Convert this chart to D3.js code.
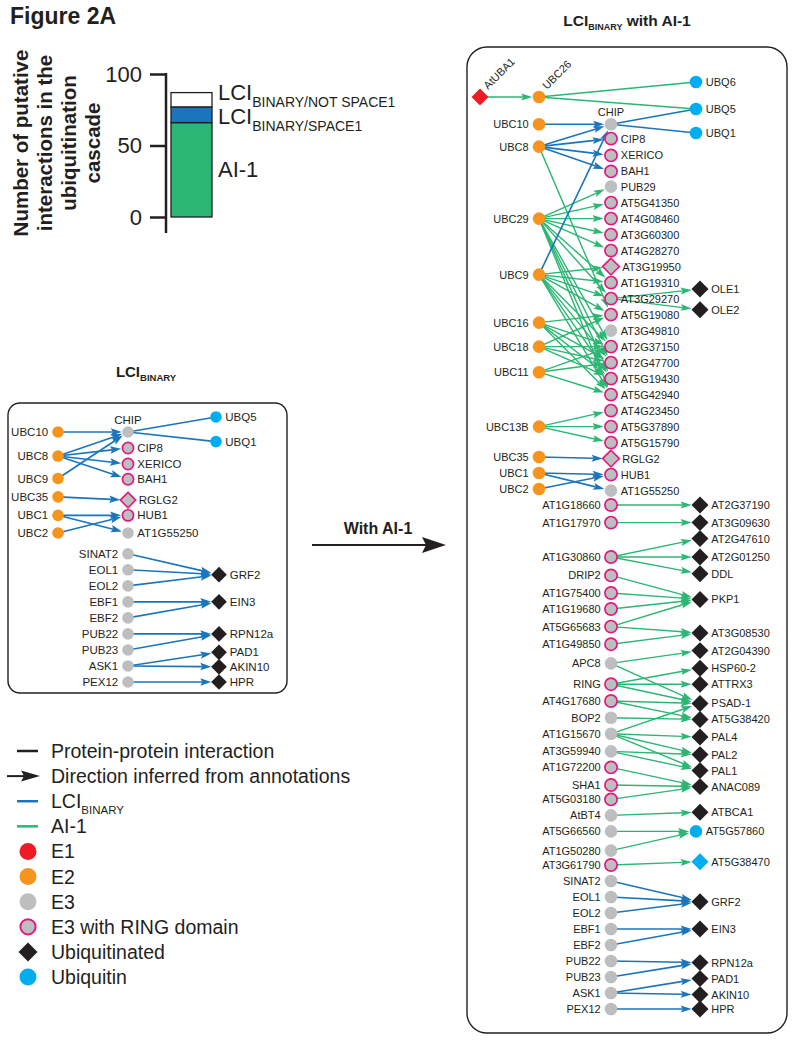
<!DOCTYPE html>
<html><head><meta charset="utf-8">
<script src="https://cdn.jsdelivr.net/npm/d3@7"></script>
<style>
body{margin:0;background:#fff}
svg{display:block}
text{font-family:"Liberation Sans",Arial,Helvetica,sans-serif;fill:#231f20}
</style>
</head><body>
<svg id="c" width="794" height="1042"></svg>
<script>
// ---------------- DATA ----------------
const barSegments = ["AI-1", "LCI_BINARY/SPACE1", "LCI_BINARY/NOT SPACE1"];
const barValues = [66, 11, 10];
const yTicks = [0, 50, 100];
const yTitleLines = ["Number of putative", "interactions in the", "ubiquitination", "cascade"];

const legendItems = [
  ["Protein-protein interaction", "ppi"],
  ["Direction inferred from annotations", "dir"],
  ["LCI|BINARY", "lci"],
  ["AI-1", "ai1"],
  ["E1", "E1c"],
  ["E2", "E2"],
  ["E3", "E3"],
  ["E3 with RING domain", "RING"],
  ["Ubiquitinated", "UB"],
  ["Ubiquitin", "UBQ"]
];

// nodes: [name, column, row, type]
const leftNodes = [
  ["UBC10",1,0,"E2"],["UBC8",1,1.5,"E2"],["UBC9",1,2.9,"E2"],["UBC35",1,4.05,"E2"],
  ["UBC1",1,5.2,"E2"],["UBC2",1,6.3,"E2"],
  ["CHIP",2,0,"E3"],["CIP8",2,1,"RING"],["XERICO",2,2,"RING"],["BAH1",2,2.95,"RING"],
  ["RGLG2",2,4.25,"RINGd"],["HUB1",2,5.2,"RING"],["AT1G55250",2,6.3,"E3"],
  ["SINAT2",2,7.6,"E3"],["EOL1",2,8.6,"E3"],["EOL2",2,9.6,"E3"],["EBF1",2,10.6,"E3"],
  ["EBF2",2,11.6,"E3"],["PUB22",2,12.6,"E3"],["PUB23",2,13.6,"E3"],["ASK1",2,14.6,"E3"],
  ["PEX12",2,15.6,"E3"],
  ["UBQ5",3,-0.94,"UBQ"],["UBQ1",3,0.6,"UBQ"],["GRF2",3,8.9,"UB"],["EIN3",3,10.6,"UB"],
  ["RPN12a",3,12.6,"UB"],["PAD1",3,13.75,"UB"],["AKIN10",3,14.65,"UB"],["HPR",3,15.6,"UB"]
];
// edges: [source, target, dataset, directed]
const lciEdges = [
  ["UBC10","CHIP","LCI",1],["UBC8","CHIP","LCI",1],["UBC8","CIP8","LCI",1],["UBC8","XERICO","LCI",1],
  ["UBC8","BAH1","LCI",1],["UBC9","CHIP","LCI",1],["CHIP","UBQ5","LCI",0],["CHIP","UBQ1","LCI",0],
  ["UBC35","RGLG2","LCI",1],["UBC1","HUB1","LCI",1],["UBC1","AT1G55250","LCI",1],["UBC2","HUB1","LCI",1],
  ["SINAT2","GRF2","LCI",1],["EOL1","GRF2","LCI",1],["EOL2","GRF2","LCI",1],["EBF1","EIN3","LCI",1],
  ["EBF2","EIN3","LCI",1],["PUB22","RPN12a","LCI",1],["PUB23","RPN12a","LCI",1],["ASK1","PAD1","LCI",1],
  ["ASK1","AKIN10","LCI",1],["PEX12","HPR","LCI",1]
];

const rightNodes = [
  ["AtUBA1",0,0,"E1"],
  ["UBC26",1,0,"E2"],["UBC10",1,1.7,"E2"],["UBC8",1,3.1,"E2"],["UBC29",1,7.6,"E2"],
  ["UBC9",1,11.1,"E2"],["UBC16",1,14.1,"E2"],["UBC18",1,15.6,"E2"],["UBC11",1,17.2,"E2"],
  ["UBC13B",1,20.6,"E2"],["UBC35",1,22.5,"E2"],["UBC1",1,23.5,"E2"],["UBC2",1,24.5,"E2"],
  ["CHIP",2,1.7,"E3"],["CIP8",2,2.6,"RING"],["XERICO",2,3.65,"RING"],["BAH1",2,4.65,"RING"],
  ["PUB29",2,5.6,"E3"],["AT5G41350",2,6.6,"RING"],["AT4G08460",2,7.6,"RING"],["AT3G60300",2,8.6,"RING"],
  ["AT4G28270",2,9.6,"RING"],["AT3G19950",2,10.6,"RINGd"],["AT1G19310",2,11.6,"RING"],
  ["AT3G29270",2,12.6,"RING"],["AT5G19080",2,13.6,"RING"],["AT3G49810",2,14.6,"E3"],
  ["AT2G37150",2,15.6,"RING"],["AT2G47700",2,16.6,"RING"],["AT5G19430",2,17.6,"RING"],
  ["AT5G42940",2,18.6,"RING"],["AT4G23450",2,19.6,"RING"],["AT5G37890",2,20.6,"RING"],
  ["AT5G15790",2,21.6,"RING"],["RGLG2",2,22.6,"RINGd"],["HUB1",2,23.6,"RING"],["AT1G55250",2,24.6,"E3"],
  ["AT1G18660",2,25.5,"RING"],["AT1G17970",2,26.6,"RING"],["AT1G30860",2,28.75,"RING"],
  ["DRIP2",2,29.9,"RING"],["AT1G75400",2,31,"RING"],["AT1G19680",2,32,"RING"],
  ["AT5G65683",2,33.1,"RING"],["AT1G49850",2,34.2,"RING"],["APC8",2,35.4,"E3"],
  ["RING",2,36.7,"RING"],["AT4G17680",2,37.75,"RING"],["BOP2",2,38.8,"E3"],["AT1G15670",2,39.8,"E3"],
  ["AT3G59940",2,40.9,"E3"],["AT1G72200",2,41.9,"RING"],["SHA1",2,43,"RING"],["AT5G03180",2,43.9,"RING"],
  ["AtBT4",2,44.9,"E3"],["AT5G66560",2,45.9,"E3"],["AT1G50280",2,47.1,"E3"],["AT3G61790",2,48,"RING"],
  ["SINAT2",2,49,"E3"],["EOL1",2,50,"E3"],["EOL2",2,51,"E3"],["EBF1",2,52,"E3"],["EBF2",2,53,"E3"],
  ["PUB22",2,54,"E3"],["PUB23",2,55,"E3"],["ASK1",2,56,"E3"],["PEX12",2,57,"E3"],
  ["UBQ6",3,-0.94,"UBQ"],["UBQ5",3,0.75,"UBQ"],["UBQ1",3,2.25,"UBQ"],["OLE1",3,12,"UB"],["OLE2",3,13.3,"UB"],
  ["AT2G37190",3,25.5,"UB"],["AT3G09630",3,26.6,"UB"],["AT2G47610",3,27.6,"UB"],["AT2G01250",3,28.75,"UB"],
  ["DDL",3,29.8,"UB"],["PKP1",3,31.4,"UB"],["AT3G08530",3,33.5,"UB"],["AT2G04390",3,34.6,"UB"],
  ["HSP60-2",3,35.7,"UB"],["ATTRX3",3,36.7,"UB"],["PSAD-1",3,37.9,"UB"],["AT5G38420",3,38.9,"UB"],
  ["PAL4",3,40,"UB"],["PAL2",3,41.1,"UB"],["PAL1",3,42.1,"UB"],["ANAC089",3,43.1,"UB"],
  ["ATBCA1",3,44.7,"UB"],["AT5G57860",3,45.9,"UBQ"],["AT5G38470",3,47.8,"UBQd"],
  ["GRF2",3,50.3,"UB"],["EIN3",3,52,"UB"],["RPN12a",3,54.1,"UB"],["PAD1",3,55.1,"UB"],
  ["AKIN10",3,56.1,"UB"],["HPR",3,57,"UB"]
];
const ai1Edges = [
  ["AtUBA1","UBC26","AI1",1],["UBC26","UBQ6","AI1",0],["UBC26","UBQ5","AI1",0],
  ["UBC8","AT5G19080","AI1",1],
  ["UBC29","PUB29","AI1",1],["UBC29","AT5G41350","AI1",1],["UBC29","AT4G08460","AI1",1],
  ["UBC29","AT3G60300","AI1",1],["UBC29","AT4G28270","AI1",1],["UBC29","AT1G19310","AI1",1],
  ["UBC29","AT3G29270","AI1",1],["UBC29","AT2G37150","AI1",1],["UBC29","AT2G47700","AI1",1],
  ["UBC29","AT5G19430","AI1",1],["UBC29","AT5G42940","AI1",1],
  ["UBC9","AT3G19950","AI1",1],["UBC9","AT1G19310","AI1",1],["UBC9","AT3G29270","AI1",1],
  ["UBC9","AT5G19080","AI1",1],["UBC9","AT2G37150","AI1",1],["UBC9","AT2G47700","AI1",1],
  ["UBC9","AT5G19430","AI1",1],["UBC9","AT5G42940","AI1",1],
  ["UBC16","AT5G19080","AI1",1],["UBC16","AT2G37150","AI1",1],["UBC16","AT2G47700","AI1",1],
  ["UBC16","AT5G19430","AI1",1],["UBC16","AT5G42940","AI1",1],
  ["UBC18","AT5G19080","AI1",1],["UBC18","AT2G37150","AI1",1],["UBC18","AT2G47700","AI1",1],
  ["UBC18","AT5G19430","AI1",1],
  ["UBC11","AT2G37150","AI1",1],["UBC11","AT2G47700","AI1",1],["UBC11","AT5G42940","AI1",1],
  ["UBC13B","AT4G23450","AI1",1],["UBC13B","AT5G37890","AI1",1],["UBC13B","AT5G15790","AI1",1],
  ["AT3G29270","OLE1","AI1",1],["AT3G29270","OLE2","AI1",1],
  ["AT1G18660","AT2G37190","AI1",1],["AT1G17970","AT3G09630","AI1",1],
  ["AT1G30860","AT2G47610","AI1",1],["AT1G30860","AT2G01250","AI1",1],["AT1G30860","DDL","AI1",1],
  ["DRIP2","PKP1","AI1",1],["AT1G75400","PKP1","AI1",1],["AT1G19680","PKP1","AI1",1],
  ["AT5G65683","PKP1","AI1",1],["AT5G65683","AT3G08530","AI1",1],["AT1G49850","AT3G08530","AI1",1],
  ["APC8","AT2G04390","AI1",1],["APC8","PSAD-1","AI1",1],
  ["RING","HSP60-2","AI1",1],["RING","ATTRX3","AI1",1],["RING","PSAD-1","AI1",1],
  ["AT4G17680","PSAD-1","AI1",1],["AT4G17680","AT5G38420","AI1",1],["BOP2","AT5G38420","AI1",1],
  ["AT1G15670","PSAD-1","AI1",1],["AT1G15670","PAL4","AI1",1],["AT1G15670","PAL2","AI1",1],
  ["AT1G15670","PAL1","AI1",1],["AT3G59940","PAL2","AI1",1],["AT3G59940","PAL1","AI1",1],
  ["AT1G72200","ANAC089","AI1",1],["SHA1","ANAC089","AI1",1],["AT5G03180","ANAC089","AI1",1],
  ["AtBT4","ATBCA1","AI1",1],["AT5G66560","AT5G57860","AI1",1],["AT1G50280","AT5G57860","AI1",1],
  ["AT3G61790","AT5G38470","AI1",1]
];
const rightEdges = ai1Edges.concat(lciEdges);

// ---------------- STYLE ----------------
const C = {
  blue:"#1b75bc", green:"#2bb673", orange:"#f7941d", gray:"#bcbec0",
  magenta:"#e3197f", ubq:"#00aeef", red:"#ed1c24", black:"#231f20"
};
const svg = d3.select("#c");

function subText(sel, main, sub, rest, mainSize, subSize, shift, weight) {
  const t = sel.append("text").attr("font-weight", weight || "normal");
  t.append("tspan").attr("font-size", mainSize).text(main);
  t.append("tspan").attr("font-size", subSize).attr("dy", shift).text(sub);
  if (rest) t.append("tspan").attr("font-size", mainSize).attr("dy", -shift).text(rest);
  return t;
}

// ---------------- HEADER + BAR ----------------
svg.append("text").attr("x", 10).attr("y", 24).attr("font-size", 23).attr("font-weight", "bold").text("Figure 2A");

const yBar = d3.scaleLinear().domain([0, 100]).range([217, 74]);
const xBar = d3.scaleBand().domain(["cascade"]).range([171, 212]);
const gAx = svg.append("g").attr("transform", "translate(166,0)")
  .call(d3.axisLeft(yBar).tickValues(yTicks).tickSize(16).tickPadding(8).tickSizeOuter(0));
gAx.select(".domain").remove();
gAx.selectAll(".tick line").attr("stroke", C.black).attr("stroke-width", 2.5);
gAx.selectAll(".tick text").attr("font-size", 22).attr("fill", C.black)
  .attr("font-family", '"Liberation Sans",Arial,sans-serif');
svg.append("line").attr("x1", 166).attr("x2", 166).attr("y1", yBar(100) - 1).attr("y2", yBar(0) + 16)
  .attr("stroke", C.black).attr("stroke-width", 2.5);

const barColors = [C.green, C.blue, "#ffffff"];
let cum = 0;
const segs = barValues.map((v, i) => { const s = {i, y0: cum, y1: cum + v}; cum += v; return s; });
svg.selectAll("rect.bar").data(segs).join("rect").attr("class", "bar")
  .attr("x", xBar("cascade")).attr("width", xBar.bandwidth())
  .attr("y", d => yBar(d.y1)).attr("height", d => yBar(d.y0) - yBar(d.y1))
  .attr("fill", d => barColors[d.i]).attr("stroke", C.black).attr("stroke-width", 1.3);

const lx = xBar.range()[1] + 6;
{
  const s2 = segs[2], s1 = segs[1], s0 = segs[0];
  subText(svg, "LCI", barSegments[2].split("_")[1], null, 22, 14, 7).attr("x", lx).attr("y", yBar(s2.y1) + 7);
  subText(svg, "LCI", barSegments[1].split("_")[1], null, 22, 14, 7).attr("x", lx).attr("y", yBar(s1.y1) + 17);
  svg.append("text").attr("x", lx).attr("y", yBar((s0.y0 + s0.y1) / 2) + 7).attr("font-size", 22).text(barSegments[0]);
}

yTitleLines.forEach((t, i) => {
  svg.append("text").attr("transform", `translate(${28 + i * 24},143) rotate(-90)`)
    .attr("text-anchor", "middle").attr("font-size", 20.5).attr("font-weight", "bold").text(t);
});

// ---------------- NETWORK DRAWER ----------------
function drawNet(g, nodes, edges, xs, ys, cfg) {
  const byName = new Map(nodes.map(n => [n[0], {name: n[0], col: n[1], row: n[2], type: n[3],
    x: xs(n[1]) + (n[3] === "UBQ" && n[1] === 3 ? cfg.ubqShift : 0), y: ys(n[2])}]));
  const rad = t => (t === "UB" || t === "UBQd" || t === "E1" || t === "RINGd") ? cfg.r * 1.25 : cfg.r + (t === "RING" ? 0.6 : 0);
  const lines = [], heads = [];
  edges.forEach(e => {
    const a = byName.get(e[0]), b = byName.get(e[1]);
    const col = e[2] === "LCI" ? C.blue : C.green;
    const dx = b.x - a.x, dy = b.y - a.y, len = Math.hypot(dx, dy), ux = dx / len, uy = dy / len;
    if (!e[3]) { lines.push({x1: a.x, y1: a.y, x2: b.x, y2: b.y, col, w: e[2] === "LCI" ? cfg.wb : cfg.wg}); return; }
    const tipD = rad(b.type) + 0.5;
    const tx = b.x - ux * tipD, ty = b.y - uy * tipD;
    const bx = tx - ux * cfg.L, by = ty - uy * cfg.L;
    const px = -uy * cfg.W / 2, py = ux * cfg.W / 2;
    lines.push({x1: a.x, y1: a.y, x2: bx + ux * 2, y2: by + uy * 2, col, w: e[2] === "LCI" ? cfg.wb : cfg.wg});
    heads.push({pts: [[tx, ty], [bx + px, by + py], [bx + ux * 2, by + uy * 2], [bx - px, by - py]], col});
  });
  g.append("g").selectAll("line").data(lines).join("line")
    .attr("x1", d => d.x1).attr("y1", d => d.y1).attr("x2", d => d.x2).attr("y2", d => d.y2)
    .attr("stroke", d => d.col).attr("stroke-width", d => d.w);
  g.append("g").selectAll("path").data(heads).join("path")
    .attr("d", d => "M" + d.pts.map(p => p.join(",")).join("L") + "Z").attr("fill", d => d.col);
  const ns = [...byName.values()];
  const ng = g.append("g");
  ns.forEach(n => {
    const t = n.type;
    const nx = n.x;
    if (t === "UB" || t === "UBQd" || t === "E1" || t === "RINGd") {
      const d = rad(t) + (t === "RINGd" ? 0.5 : 0.6);
      ng.append("path").attr("d", `M${nx},${n.y - d}L${nx + d},${n.y}L${nx},${n.y + d}L${nx - d},${n.y}Z`)
        .attr("fill", t === "UB" ? C.black : t === "UBQd" ? C.ubq : t === "E1" ? C.red : C.gray)
        .attr("stroke", t === "RINGd" ? C.magenta : "none").attr("stroke-width", 1.6);
    } else {
      ng.append("circle").attr("cx", nx).attr("cy", n.y).attr("r", t === "RING" ? cfg.r - 0.2 : cfg.r)
        .attr("fill", t === "E2" ? C.orange : t === "UBQ" ? C.ubq : C.gray)
        .attr("stroke", t === "RING" ? C.magenta : "none").attr("stroke-width", 1.7);
    }
    const side = cfg.side(n);
    const lt = ng.append("text").attr("font-size", cfg.fs).text(n.name);
    if (side === "left") lt.attr("x", nx - cfg.r - 4).attr("y", n.y).attr("dy", "0.36em").attr("text-anchor", "end");
    else if (side === "right") lt.attr("x", nx + cfg.r + 3.5 + (t === "UB" || t === "UBQd" || t === "RINGd" ? 1.5 : 0)).attr("y", n.y).attr("dy", "0.36em");
    else if (side === "top") lt.attr("x", nx).attr("y", n.y - cfg.r - 2).attr("text-anchor", "middle");
    else lt.attr("transform", `translate(${nx + 8},${n.y - 7}) rotate(-45)`);
  });
}

// ---------------- LEFT PANEL ----------------
svg.append("rect").attr("x", 8).attr("y", 403).attr("width", 279).attr("height", 290).attr("rx", 12)
  .attr("fill", "none").attr("stroke", C.black).attr("stroke-width", 1.4);
subText(svg, "LCI", "BINARY", null, 15, 9.5, 4, "bold").attr("x", 146).attr("y", 377).attr("text-anchor", "middle");
const xL = d3.scaleOrdinal().domain([1, 2, 3]).range([58, 128, 219]);
const yL = d3.scaleLinear().domain([0, 15.6]).range([432, 682]);
drawNet(svg.append("g"), leftNodes, lciEdges, xL, yL, {
  r: 5.8, fs: 11.5, L: 11, W: 7.5, wb: 1.6, wg: 1.4, ubqShift: -3,
  side: n => n.name === "CHIP" ? "top" : n.col === 1 ? "left" : n.col === 3 ? "right" : (n.row >= 7 ? "left" : "right")
});

// ---------------- RIGHT PANEL ----------------
svg.append("rect").attr("x", 467).attr("y", 47).attr("width", 320).attr("height", 986).attr("rx", 20)
  .attr("fill", "none").attr("stroke", C.black).attr("stroke-width", 1.4);
subText(svg, "LCI", "BINARY", " with AI-1", 15.5, 9, 4, "bold").attr("x", 627).attr("y", 26).attr("text-anchor", "middle");
const xR = d3.scaleOrdinal().domain([0, 1, 2, 3]).range([480, 539, 611, 700]);
const yR = d3.scaleLinear().domain([0, 57]).range([97, 1009]);
drawNet(svg.append("g"), rightNodes, rightEdges, xR, yR, {
  r: 6.3, fs: 11, L: 11, W: 7, wb: 1.6, wg: 1.4, ubqShift: -4,
  side: n => (n.name === "AtUBA1" || n.name === "UBC26") ? "rot" : n.name === "CHIP" ? "top" :
    n.col === 1 ? "left" : n.col === 3 ? "right" : (n.row >= 25 ? "left" : "right")
});

// ---------------- "With AI-1" ARROW ----------------
svg.append("text").attr("x", 378).attr("y", 534).attr("text-anchor", "middle").attr("font-size", 16).attr("font-weight", "bold").text("With AI-1");
svg.append("line").attr("x1", 312).attr("x2", 428).attr("y1", 545).attr("y2", 545).attr("stroke", C.black).attr("stroke-width", 2.2);
svg.append("path").attr("d", "M446,545L422,537L426,545L422,553Z").attr("fill", C.black);

// ---------------- LEGEND ----------------
const yLeg = d3.scaleLinear().domain([0, legendItems.length - 1]).range([751, 977]);
legendItems.forEach((it, i) => {
  const y = yLeg(i), k = it[1];
  const g = svg.append("g");
  if (k === "ppi" || k === "lci" || k === "ai1") {
    g.append("line").attr("x1", 17).attr("x2", 38).attr("y1", y).attr("y2", y)
      .attr("stroke", k === "ppi" ? C.black : k === "lci" ? C.blue : C.green).attr("stroke-width", 2.5);
  } else if (k === "dir") {
    g.append("line").attr("x1", 7).attr("x2", 26).attr("y1", y).attr("y2", y).attr("stroke", C.black).attr("stroke-width", 2);
    g.append("path").attr("d", `M40,${y}L21,${y - 5.5}L24,${y}L21,${y + 5.5}Z`).attr("fill", C.black);
  } else if (k === "UB") {
    g.append("path").attr("d", `M28,${y - 9.5}L37.5,${y}L28,${y + 9.5}L18.5,${y}Z`).attr("fill", C.black);
  } else {
    g.append("circle").attr("cx", 28).attr("cy", y).attr("r", k === "RING" ? 7.6 : 8.5)
      .attr("fill", k === "E1c" ? C.red : k === "E2" ? C.orange : k === "UBQ" ? C.ubq : C.gray)
      .attr("stroke", k === "RING" ? C.magenta : "none").attr("stroke-width", 2);
  }
  const parts = it[0].split("|");
  if (parts.length > 1) subText(g, parts[0], parts[1], null, 19.5, 11.5, 6).attr("x", 51).attr("y", y + 7);
  else g.append("text").attr("x", 51).attr("y", y).attr("dy", "0.36em").attr("font-size", 19.5).text(parts[0]);
});
</script>
</body></html>
